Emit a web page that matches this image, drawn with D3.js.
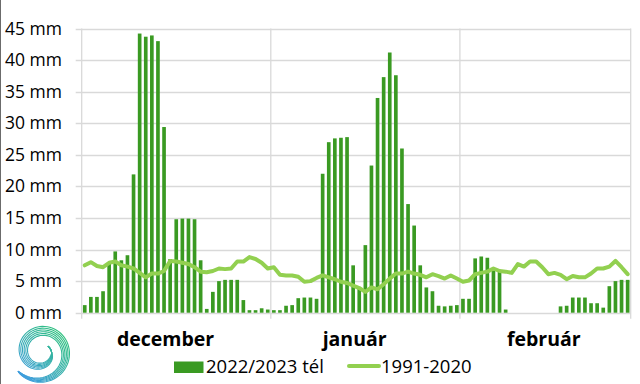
<!DOCTYPE html>
<html><head><meta charset="utf-8">
<script src="https://cdn.jsdelivr.net/npm/d3@7"></script>
<style>
html,body{margin:0;padding:0;background:#fff;}
svg{display:block;font-family:"Open Sans",Lato,sans-serif;}
</style></head>
<body>
<svg id="c" width="640" height="384"></svg>
<script>
const months = ["december", "január", "február"];
const monthDays = [31, 31, 28];
const monthLabelDay = [13, 44, 75];
const yTicks = [0, 5, 10, 15, 20, 25, 30, 35, 40, 45];
const seriesNames = ["2022/2023 tél", "1991-2020"];

const precip2223 = [
  // december
  1.2, 2.5, 2.5, 3.4, 7.8, 9.7, 8.3, 9.1, 21.9, 44.2, 43.7, 43.9, 43.0, 29.4, 8.5, 14.8,
  14.9, 14.9, 14.8, 8.3, 0.6, 3.3, 5.0, 5.2, 5.2, 5.2, 2.0, 0.4, 0.4, 0.7, 0.5,
  // január
  0.4, 0.4, 1.1, 1.2, 2.3, 2.4, 2.4, 2.2, 22.0, 27.0, 27.6, 27.7, 27.8, 7.5, 3.9, 10.7,
  23.3, 34.0, 37.3, 41.2, 37.6, 26.0, 17.2, 13.8, 7.5, 4.0, 3.4, 1.1, 1.0, 1.1, 1.2,
  // február
  2.2, 2.2, 8.6, 8.9, 8.7, 7.0, 6.6, 0.5, 0, 0, 0, 0, 0, 0, 0, 0,
  1.0, 1.1, 2.4, 2.4, 2.4, 1.5, 1.5, 0.8, 4.2, 5.0, 5.2, 5.2
];
const normal9120 = [
  // december
  7.5, 8.0, 7.4, 7.2, 7.9, 8.1, 7.5, 7.3, 7.0, 6.3, 5.6, 6.2, 6.2, 6.6, 8.2, 8.1,
  7.9, 7.7, 7.2, 6.5, 6.4, 6.6, 7.0, 6.9, 7.0, 8.1, 8.1, 8.8, 8.5, 7.9, 7.0,
  // január
  7.2, 6.0, 5.9, 5.9, 5.7, 4.9, 5.0, 5.5, 5.9, 5.6, 5.3, 4.9, 4.7, 4.3, 3.9, 3.3,
  4.0, 3.7, 4.5, 5.4, 6.2, 6.2, 6.5, 6.2, 6.0, 5.6, 6.1, 5.8, 5.4, 5.9, 5.4,
  // február
  4.9, 5.1, 6.1, 6.3, 6.5, 7.0, 6.6, 6.5, 6.3, 7.7, 7.3, 8.1, 8.1, 7.2, 6.1, 6.3,
  6.0, 5.3, 5.8, 5.6, 5.6, 6.2, 7.0, 7.0, 7.3, 8.2, 7.2, 6.1
];

const svg = d3.select("#c");
const L = 81.7, R = 630.7, T = 28.5, B = 312.7;
const n = precip2223.length;
const x = d3.scaleBand().domain(d3.range(n)).range([L, R]).paddingInner(0.4).paddingOuter(0.2);
const y = d3.scaleLinear().domain([0, 45]).range([B, T]);
const grid = "#d9d9d9";

// frame line at left edge
svg.append("line").attr("x1", 0.5).attr("x2", 0.5).attr("y1", 0).attr("y2", 384)
  .attr("stroke", "#6b6b6b").attr("stroke-width", 1);

// horizontal gridlines
svg.append("g").selectAll("line").data(yTicks).join("line")
  .attr("x1", L - 6).attr("x2", R)
  .attr("y1", d => Math.round(y(d)) + 0.5).attr("y2", d => Math.round(y(d)) + 0.5)
  .attr("stroke", grid).attr("stroke-width", 1.3);

// month boundaries
const bounds = [0];
monthDays.forEach((d, i) => bounds.push(bounds[i] + d));
const bx = i => i === n ? R : x(i) - x.step() * x.paddingInner() / 2;
svg.append("g").selectAll("line").data(bounds).join("line")
  .attr("x1", d => bx(d)).attr("x2", d => bx(d))
  .attr("y1", T).attr("y2", B + 6)
  .attr("stroke", grid).attr("stroke-width", 1.3);

// y labels
svg.append("g").selectAll("text").data(yTicks).join("text")
  .attr("x", 62).attr("y", d => y(d) + 6)
  .attr("text-anchor", "end").attr("font-size", 17.5).attr("fill", "#000")
  .text(d => d + " mm");

// bars
svg.append("g").selectAll("rect").data(precip2223).join("rect")
  .attr("x", (d, i) => x(i)).attr("width", x.bandwidth())
  .attr("y", d => y(d)).attr("height", d => B - y(d))
  .attr("fill", "#3a9a22");

// line
const line = d3.line().x((d, i) => x(i) + x.bandwidth() / 2).y(d => y(d));
svg.append("path").datum(normal9120).attr("d", line)
  .attr("fill", "none").attr("stroke", "#92d050").attr("stroke-width", 4)
  .attr("stroke-linejoin", "round").attr("stroke-linecap", "round");

// month labels
svg.append("g").selectAll("text").data(months).join("text")
  .attr("x", (d, i) => x(monthLabelDay[i]) + x.bandwidth() / 2 + 1.5)
  .attr("y", 346).attr("text-anchor", "middle")
  .attr("font-size", 19.5).attr("font-weight", "bold").attr("fill", "#000")
  .text(d => d);

// legend
const lg = svg.append("g");
lg.append("rect").attr("x", 174).attr("y", 361.5).attr("width", 29.5).attr("height", 11.5).attr("fill", "#3a9a22");
lg.append("text").attr("x", 206).attr("y", 373).attr("font-size", 18.5).text(seriesNames[0]);
lg.append("line").attr("x1", 349).attr("x2", 379).attr("y1", 366).attr("y2", 366)
  .attr("stroke", "#92d050").attr("stroke-width", 4).attr("stroke-linecap", "round");
lg.append("text").attr("x", 381).attr("y", 373).attr("font-size", 18.5).text(seriesNames[1]);

// logo (spiral)
const defs = svg.append("defs");
const gr = defs.append("linearGradient").attr("id", "lgrad").attr("gradientUnits", "userSpaceOnUse")
  .attr("x1", 62).attr("y1", 330).attr("x2", 18).attr("y2", 376);
gr.append("stop").attr("offset", "0").attr("stop-color", "#2ec27a");
gr.append("stop").attr("offset", "1").attr("stop-color", "#3f9be2");
const cx = 41, cy = 352;
for (let s = 0; s < 6; s++) {
  const pts = d3.range(0, 1.0001, 0.01).map(t => {
    const a = (140 - 540 * t) * Math.PI / 180;
    const w = 9 * Math.pow(Math.sin(Math.PI * Math.min(1, t * 1.1)), 0.6);
    const r = 30 - 21 * t + (s / 5 - 0.5) * w;
    return [cx + r * Math.cos(a), cy + r * Math.sin(a)];
  });
  svg.append("path").attr("d", d3.line()(pts))
    .attr("fill", "none").attr("stroke", "url(#lgrad)").attr("stroke-width", 1.1);
}
</script>
</body></html>
